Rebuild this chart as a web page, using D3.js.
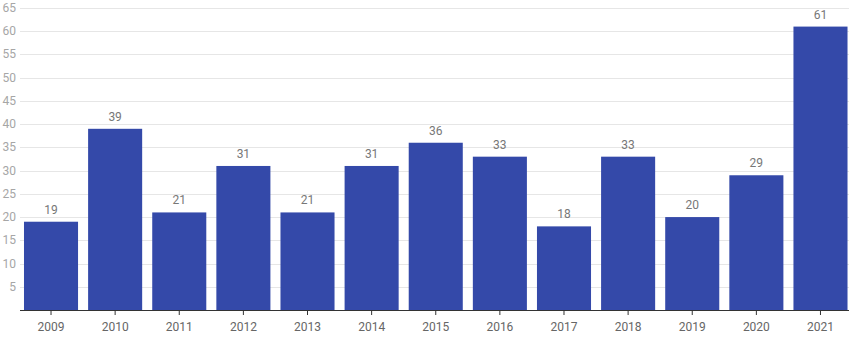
<!DOCTYPE html>
<html><head><meta charset="utf-8">
<script src="https://cdn.jsdelivr.net/npm/d3@7"></script>
<style>body{margin:0;background:#fff;font-family:Roboto,sans-serif;}</style>
</head><body>
<svg id="c" width="853" height="345"></svg>
<script>
const years = ["2009","2010","2011","2012","2013","2014","2015","2016","2017","2018","2019","2020","2021"];
const counts = [19,39,21,31,21,31,36,33,18,33,20,29,61];
const yTicks = [5,10,15,20,25,30,35,40,45,50,55,60,65];

(function(){
const svg = d3.select("#c");
const mLeft = 20, mRight = 849, mTop = 8, mBottom = 310;
const x = d3.scaleBand().domain(years).range([19.5, 852]).paddingInner(0.157).paddingOuter(0.07);
const y = d3.scaleLinear().domain([0,65]).range([mBottom, mTop]);

svg.append("g").selectAll("line").data(yTicks).join("line")
  .attr("x1", mLeft).attr("x2", mRight)
  .attr("y1", d => Math.round(y(d)) + 0.5).attr("y2", d => Math.round(y(d)) + 0.5)
  .attr("stroke", "#e6e6e6").attr("stroke-width", 1);

svg.append("g").selectAll("text").data(yTicks).join("text")
  .attr("x", 16).attr("y", d => y(d) + 4).attr("text-anchor", "end")
  .attr("font-size", 12).attr("fill", "#a6a6a6").text(d => d);

svg.append("g").selectAll("rect").data(years).join("rect")
  .attr("x", d => x(d)).attr("width", x.bandwidth())
  .attr("y", (d,i) => y(counts[i])).attr("height", (d,i) => mBottom - y(counts[i]))
  .attr("fill", "#3449a9");

svg.append("g").selectAll("text").data(years).join("text")
  .attr("x", d => x(d) + x.bandwidth()/2).attr("y", (d,i) => y(counts[i]) - 8)
  .attr("text-anchor", "middle").attr("font-size", 12).attr("fill", "#777")
  .text((d,i) => counts[i]);

const ax = svg.append("g").attr("transform", `translate(0,${mBottom})`)
  .call(d3.axisBottom(x).tickSize(5).tickPadding(7).tickSizeOuter(0));
ax.select(".domain").attr("stroke", "#333").attr("d", `M${mLeft},0.5H${mRight}`);
ax.selectAll(".tick line").attr("stroke", "#333");
ax.selectAll(".tick text").attr("font-size", 12).attr("fill", "#666").attr("font-family", "Roboto, sans-serif");
})();
</script>
</body></html>
